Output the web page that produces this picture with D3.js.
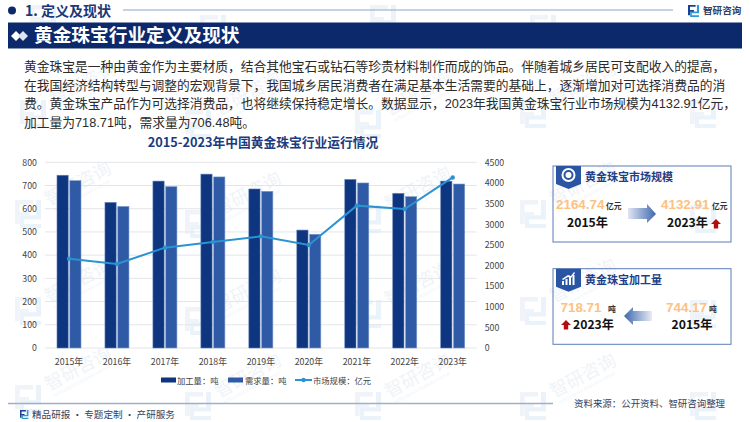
<!DOCTYPE html>
<html>
<head>
<meta charset="utf-8">
<script src="https://cdn.jsdelivr.net/npm/d3@7"></script>
<style>
  html, body { margin: 0; padding: 0; background: #fff; }
  svg { display: block; }
  text { font-family: "Noto Sans CJK SC", "Noto Sans", sans-serif; }
  .latin { font-family: "Liberation Sans", "Noto Sans CJK SC", sans-serif; }
</style>
</head>
<body>
<script>
const years = ["2015年", "2016年", "2017年", "2018年", "2019年", "2020年", "2021年", "2022年", "2023年"];
const processed = [744.17, 627, 719, 749, 685, 508, 726, 666, 718.71];
const demand = [721, 610, 695, 737, 675, 490, 711, 652, 706.48];
const market = [2164.74, 2036, 2432, 2569, 2706, 2496, 3450, 3369, 4132.91];
const leftTicks = [0, 100, 200, 300, 400, 500, 600, 700, 800];
const rightTicks = [0, 500, 1000, 1500, 2000, 2500, 3000, 3500, 4000, 4500];
const bodyLines = [
  "黄金珠宝是一种由黄金作为主要材质，结合其他宝石或钻石等珍贵材料制作而成的饰品。伴随着城乡居民可支配收入的提高，",
  "在我国经济结构转型与调整的宏观背景下，我国城乡居民消费者在满足基本生活需要的基础上，逐渐增加对可选择消费品的消",
  "费。黄金珠宝产品作为可选择消费品，也将继续保持稳定增长。数据显示，2023年我国黄金珠宝行业市场规模为4132.91亿元，",
  "加工量为718.71吨，需求量为706.48吨。"
];

const DARK = "#0d3580", LIGHT = "#2f5aa6", LINE = "#2b93d1", NAVY = "#0c2a6b";

const svg = d3.select("body").append("svg").attr("width", 750).attr("height", 422);

const defs = svg.append("defs");
const gradRight = defs.append("linearGradient").attr("id", "fadeRight");
gradRight.append("stop").attr("offset", "0").attr("stop-color", "#dfe6f2");
gradRight.append("stop").attr("offset", "1").attr("stop-color", "#3f68ad");
const gradLeft = defs.append("linearGradient").attr("id", "fadeLeft");
gradLeft.append("stop").attr("offset", "0").attr("stop-color", "#3f68ad");
gradLeft.append("stop").attr("offset", "1").attr("stop-color", "#e6ecf5");

// little bracket logo, used for header, footer and watermark
function logo(g, x, y, s, c1, c2) {
  const o = g.append("g").attr("transform", "translate(" + x + "," + y + ") scale(" + s + ")");
  o.append("path").attr("fill", c1).attr("d", "M0 0H9V2.2H2.4V6H7V8.2H2.4V12H0Z");
  o.append("path").attr("fill", c2).attr("d", "M10.5 0H13V9.8H4.5V12H13V14H2.5V7.6H10.5Z");
}

// watermark, text only where it stays on the page
const wm = svg.append("g");
[[20, 100], [185, 110], [355, 110], [520, 100], [690, 100],
 [15, 200], [185, 210], [355, 205], [520, 200], [690, 205],
 [15, 297], [185, 307], [355, 300], [520, 297], [690, 300],
 [15, 385], [185, 392], [355, 392], [520, 392], [690, 392],
 [30, 5], [200, 15], [370, 5], [530, 15]].forEach(function(p) {
  logo(wm, p[0], p[1], 2, "#f0f4f9", "#ebf3fa");
  if (p[0] > 650 || p[1] < 30) return;
  wm.append("text")
    .attr("transform", "translate(" + (p[0] + 34) + "," + (p[1] + 6) + ") rotate(-28)")
    .attr("font-size", 18).attr("fill", "#f0f3f7").text("智研咨询");
  wm.append("text")
    .attr("transform", "translate(" + (p[0] + 40) + "," + (p[1] + 12) + ") rotate(-28)")
    .attr("font-size", 4).attr("fill", "#f0f3f7").text("INTELLIGENCE RESEARCH GROUP");
});

// top heading
svg.append("circle").attr("cx", 12).attr("cy", 10.5).attr("r", 4).attr("fill", NAVY);
svg.append("text").attr("x", 25).attr("y", 16).attr("font-size", 14).attr("font-weight", 700)
  .attr("fill", "#1c3877").text("1. 定义及现状");
svg.append("line").attr("x1", 123).attr("x2", 673).attr("y1", 10).attr("y2", 10)
  .attr("stroke", "#8ea3c9").attr("stroke-width", 1);
logo(svg, 688, 5, 0.85, "#1c3f8f", "#2f9bd6");
svg.append("text").attr("x", 703).attr("y", 14).attr("font-size", 9.6).attr("font-weight", 700)
  .attr("fill", "#33415f").text("智研咨询");

// title band
svg.append("rect").attr("x", 8).attr("y", 22.5).attr("width", 734).attr("height", 26).attr("fill", NAVY);
svg.append("path").attr("fill", "#fff").attr("d", "M11 36l5-5 5 5-5 5Z");
svg.append("path").attr("fill", "#dfe4ee").attr("d", "M18 36l5-5 5 5-5 5Z");
svg.append("text").attr("x", 34).attr("y", 42).attr("font-size", 18.7).attr("font-weight", 700)
  .attr("fill", "#fff").text("黄金珠宝行业定义及现状");

// paragraph
svg.append("g").selectAll("text").data(bodyLines).enter().append("text")
  .attr("class", "latin")
  .attr("x", 24)
  .attr("y", function(d, i) { return 70.8 + i * 18.7; })
  .attr("font-size", 12.76)
  .attr("fill", "#2b2b2b")
  .text(function(d) { return d; });

// chart
const plot = { left: 45, right: 476.7, top: 162.3, bottom: 348 };
const x = d3.scaleBand().domain(years).range([plot.left, plot.right]);
const xInner = d3.scaleBand().domain(["processed", "demand"]).range([12, 36]).paddingInner(0.125);
const yLeft = d3.scaleLinear().domain([0, 800]).range([plot.bottom, plot.top]);
const yRight = d3.scaleLinear().domain([0, 4500]).range([plot.bottom, plot.top]);

svg.append("text").attr("x", 263).attr("y", 147).attr("text-anchor", "middle")
  .attr("font-size", 12.75).attr("font-weight", 700).attr("fill", "#1a3c80")
  .text("2015-2023年中国黄金珠宝行业运行情况");

svg.append("g").selectAll("line").data(leftTicks).enter().append("line")
  .attr("x1", plot.left).attr("x2", plot.right)
  .attr("y1", function(d) { return yLeft(d); })
  .attr("y2", function(d) { return yLeft(d); })
  .attr("stroke", "#e3e5e9").attr("stroke-width", 1);

const axisLeft = svg.append("g").attr("transform", "translate(" + plot.left + ",0)")
  .call(d3.axisLeft(yLeft).tickValues(leftTicks).tickSize(0).tickPadding(8));
const axisRight = svg.append("g").attr("transform", "translate(" + plot.right + ",0)")
  .call(d3.axisRight(yRight).tickValues(rightTicks).tickFormat(d3.format("d")).tickSize(0).tickPadding(8));
const axisBottom = svg.append("g").attr("transform", "translate(0," + plot.bottom + ")")
  .call(d3.axisBottom(x).tickSize(0).tickPadding(10.5));
[axisLeft, axisRight, axisBottom].forEach(function(a) {
  a.select(".domain").remove();
  a.selectAll("text").attr("font-size", 8.8).attr("fill", "#444")
    .style("font-family", "\"Noto Sans CJK SC\", sans-serif");
});

function drawBars(values, key, color, edge) {
  svg.append("g").selectAll("rect").data(values).enter().append("rect")
    .attr("x", function(d, i) { return x(years[i]) + xInner(key); })
    .attr("y", function(d) { return yLeft(d); })
    .attr("width", xInner.bandwidth())
    .attr("height", function(d) { return plot.bottom - yLeft(d); })
    .attr("fill", color)
    .attr("stroke", edge).attr("stroke-width", 0.6);
}
drawBars(processed, "processed", DARK, "#5d7fb8");
drawBars(demand, "demand", LIGHT, "#7f9ccb");

const cx = function(i) { return x(years[i]) + x.bandwidth() / 2; };
const line = d3.line().x(function(d, i) { return cx(i); }).y(function(d) { return yRight(d); });
svg.append("path").datum(market).attr("d", line).attr("fill", "none")
  .attr("stroke", LINE).attr("stroke-width", 2);
svg.append("g").selectAll("circle").data(market).enter().append("circle")
  .attr("cx", function(d, i) { return cx(i); })
  .attr("cy", function(d) { return yRight(d); })
  .attr("r", 2.2).attr("fill", LINE);

// legend
const legend = svg.append("g");
legend.append("rect").attr("x", 161).attr("y", 377.5).attr("width", 15).attr("height", 5).attr("fill", DARK);
legend.append("text").attr("x", 177).attr("y", 383.5).attr("font-size", 8.3).attr("fill", "#444").text("加工量：吨");
legend.append("rect").attr("x", 228).attr("y", 377.5).attr("width", 15).attr("height", 5).attr("fill", LIGHT);
legend.append("text").attr("x", 245).attr("y", 383.5).attr("font-size", 8.3).attr("fill", "#444").text("需求量：吨");
legend.append("line").attr("x1", 295).attr("x2", 312).attr("y1", 380).attr("y2", 380).attr("stroke", LINE).attr("stroke-width", 2);
legend.append("circle").attr("cx", 303.5).attr("cy", 380).attr("r", 2.2).attr("fill", LINE);
legend.append("text").attr("x", 313).attr("y", 383.5).attr("font-size", 8.3).attr("fill", "#444").text("市场规模：亿元");

// side cards
function card(top, h, title) {
  svg.append("rect").attr("x", 553).attr("y", top).attr("width", 178).attr("height", h)
    .attr("fill", "none").attr("stroke", "#5a7db8").attr("stroke-width", 1);
  svg.append("path").attr("fill", "#2a55a3")
    .attr("d", "M556 " + top + "H581V" + (top + 18) + "L568.5 " + (top + 23) + "L556 " + (top + 18) + "Z");
  svg.append("text").attr("x", 585).attr("y", top + 15).attr("font-size", 11).attr("font-weight", 700)
    .attr("fill", "#1f3f87").text(title);
}
function label(px, py, size, color, str) {
  return svg.append("text").attr("x", px).attr("y", py).attr("font-size", size).attr("font-weight", 700)
    .attr("fill", color).text(str);
}
function amount(px, py, str) {
  label(px, py, 13.4, "#fcc283", str).attr("class", "latin");
}
function upArrow(px, py) {
  svg.append("path").attr("fill", "#b30d0d")
    .attr("d", "M" + px + " " + py + "l5 5h-2.8v4.5h-4.4v-4.5h-2.8Z");
}

card(166, 76, "黄金珠宝市场规模");
svg.append("circle").attr("cx", 568.5).attr("cy", 175).attr("r", 7).attr("fill", "#fff");
svg.append("circle").attr("cx", 568.5).attr("cy", 175).attr("r", 4).attr("fill", "none").attr("stroke", "#2a55a3").attr("stroke-width", 2);
amount(556, 209, "2164.74");
label(606, 209, 7.8, "#333", "亿元");
label(567, 227, 12.2, "#111", "2015年");
svg.append("path").attr("fill", "url(#fadeRight)").attr("d", "M628 208H647V204L656 214L647 223V219H628Z");
amount(661, 209, "4132.91");
label(712, 209, 7.8, "#333", "亿元");
label(667, 227, 12.2, "#111", "2023年");
upArrow(716, 219);

card(268.7, 75.6, "黄金珠宝加工量");
const chartIcon = svg.append("g").attr("fill", "#fff");
chartIcon.append("path").attr("d", "M562 285V281H564V285ZM565.5 285V279H567.5V285ZM569 285V277H571V285ZM572.5 285V275H574.5V285Z");
chartIcon.append("path").attr("d", "M562 279L568 275L571 276L574 272L575 273L571 278L568 277L563 280Z");
amount(560.5, 312, "718.71");
label(608, 312, 7.8, "#333", "吨");
amount(666, 312, "744.17");
label(709, 312, 7.8, "#333", "吨");
upArrow(566, 320);
label(573, 329, 12.2, "#111", "2023年");
label(671.5, 329, 12.2, "#111", "2015年");
svg.append("path").attr("fill", "url(#fadeLeft)").attr("d", "M624 316L633 307V311H652V321H633V325Z");

// footer
svg.append("line").attr("x1", 8).attr("x2", 553).attr("y1", 403.5).attr("y2", 403.5)
  .attr("stroke", "#a2aec9").attr("stroke-width", 1.6);
logo(svg, 20, 410, 0.65, "#1c3f8f", "#2f9bd6");
svg.append("text").attr("x", 32).attr("y", 418).attr("font-size", 9.6).attr("fill", "#33415f")
  .text("精品研报 · 专题定制 · 产研服务");
svg.append("text").attr("x", 574).attr("y", 407).attr("font-size", 9.45).attr("fill", "#33415f")
  .text("资料来源：公开资料、智研咨询整理");
</script>
</body>
</html>
